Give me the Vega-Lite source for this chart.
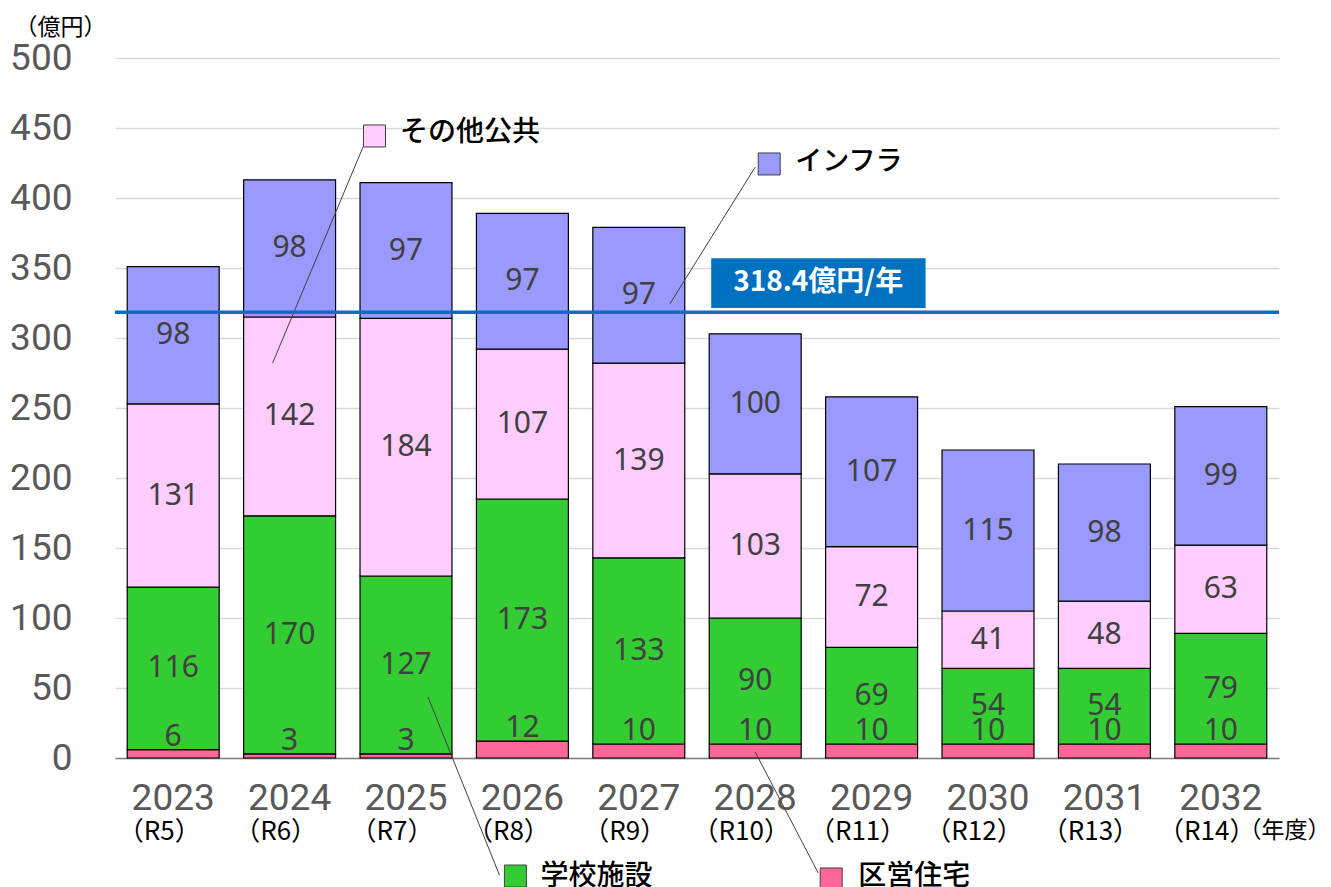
{
  "$schema": "https://vega.github.io/schema/vega-lite/v6.json",
  "width": 1164,
  "height": 700,
  "autosize": {"type": "none"},
  "padding": {"left": 115, "top": 58, "right": 52, "bottom": 129},
  "background": "white",
  "config": {"view": {"stroke": null}, "font": "Noto Sans CJK JP"},
  "datasets": {
    "main": [
      {"year": "2023", "cat": "区営住宅", "value": 6},
      {"year": "2023", "cat": "学校施設", "value": 116},
      {"year": "2023", "cat": "その他公共", "value": 131},
      {"year": "2023", "cat": "インフラ", "value": 98},
      {"year": "2024", "cat": "区営住宅", "value": 3},
      {"year": "2024", "cat": "学校施設", "value": 170},
      {"year": "2024", "cat": "その他公共", "value": 142},
      {"year": "2024", "cat": "インフラ", "value": 98},
      {"year": "2025", "cat": "区営住宅", "value": 3},
      {"year": "2025", "cat": "学校施設", "value": 127},
      {"year": "2025", "cat": "その他公共", "value": 184},
      {"year": "2025", "cat": "インフラ", "value": 97},
      {"year": "2026", "cat": "区営住宅", "value": 12},
      {"year": "2026", "cat": "学校施設", "value": 173},
      {"year": "2026", "cat": "その他公共", "value": 107},
      {"year": "2026", "cat": "インフラ", "value": 97},
      {"year": "2027", "cat": "区営住宅", "value": 10},
      {"year": "2027", "cat": "学校施設", "value": 133},
      {"year": "2027", "cat": "その他公共", "value": 139},
      {"year": "2027", "cat": "インフラ", "value": 97},
      {"year": "2028", "cat": "区営住宅", "value": 10},
      {"year": "2028", "cat": "学校施設", "value": 90},
      {"year": "2028", "cat": "その他公共", "value": 103},
      {"year": "2028", "cat": "インフラ", "value": 100},
      {"year": "2029", "cat": "区営住宅", "value": 10},
      {"year": "2029", "cat": "学校施設", "value": 69},
      {"year": "2029", "cat": "その他公共", "value": 72},
      {"year": "2029", "cat": "インフラ", "value": 107},
      {"year": "2030", "cat": "区営住宅", "value": 10},
      {"year": "2030", "cat": "学校施設", "value": 54},
      {"year": "2030", "cat": "その他公共", "value": 41},
      {"year": "2030", "cat": "インフラ", "value": 115},
      {"year": "2031", "cat": "区営住宅", "value": 10},
      {"year": "2031", "cat": "学校施設", "value": 54},
      {"year": "2031", "cat": "その他公共", "value": 48},
      {"year": "2031", "cat": "インフラ", "value": 98},
      {"year": "2032", "cat": "区営住宅", "value": 10},
      {"year": "2032", "cat": "学校施設", "value": 79},
      {"year": "2032", "cat": "その他公共", "value": 63},
      {"year": "2032", "cat": "インフラ", "value": 99}
    ],
    "years": [
      {"year": "2023", "wareki": "（R5）"},
      {"year": "2024", "wareki": "（R6）"},
      {"year": "2025", "wareki": "（R7）"},
      {"year": "2026", "wareki": "（R8）"},
      {"year": "2027", "wareki": "（R9）"},
      {"year": "2028", "wareki": "（R10）"},
      {"year": "2029", "wareki": "（R11）"},
      {"year": "2030", "wareki": "（R12）"},
      {"year": "2031", "wareki": "（R13）"},
      {"year": "2032", "wareki": "（R14）"}
    ]
  },
  "layer": [
    {
      "data": {"name": "main"},
      "transform": [
        {"calculate": "indexof(['区営住宅','学校施設','その他公共','インフラ'], datum.cat)", "as": "ord"},
        {"stack": "value", "groupby": ["year"], "sort": [{"field": "ord", "order": "ascending"}], "as": ["v0", "v1"]}
      ],
      "mark": {"type": "bar", "stroke": "#000000", "strokeWidth": 1.2},
      "encoding": {
        "x": {
          "field": "year", "type": "nominal",
          "scale": {"paddingInner": 0.21, "paddingOuter": 0.105},
          "axis": {
            "title": "（年度）", "labelAngle": 0, "labelFont": "Roboto", "labelFontSize": 37,
            "labelColor": "#595959", "labelPadding": 22, "ticks": false,
            "domainColor": "#808080", "domainWidth": 1.5,
            "titleX": 1123, "titleY": 72, "titleAlign": "left", "titleBaseline": "middle",
            "titleFontSize": 23, "titleFontWeight": "normal", "titleColor": "#000000",
            "titleFont": "Noto Sans CJK JP"
          }
        },
        "y": {
          "field": "v0", "type": "quantitative",
          "scale": {"domain": [0, 500]},
          "axis": {
            "title": "（億円）", "values": [0, 50, 100, 150, 200, 250, 300, 350, 400, 450, 500],
            "labelFont": "Roboto", "labelFontSize": 37, "labelColor": "#595959", "labelPadding": 43,
            "ticks": false, "domain": false, "gridColor": "#d9d9d9", "gridWidth": 1.3,
            "titleAngle": 0, "titleX": -101, "titleY": -31, "titleAlign": "left", "titleBaseline": "middle",
            "titleFontSize": 23, "titleFontWeight": "normal", "titleColor": "#000000",
            "titleFont": "Noto Sans CJK JP"
          }
        },
        "y2": {"field": "v1"},
        "color": {
          "field": "cat", "type": "nominal",
          "scale": {"domain": ["区営住宅", "学校施設", "その他公共", "インフラ"], "range": ["#FF6699", "#33CC33", "#FFCCFF", "#9999FF"]},
          "legend": null
        }
      }
    },
    {
      "data": {"name": "main"},
      "transform": [
        {"calculate": "indexof(['区営住宅','学校施設','その他公共','インフラ'], datum.cat)", "as": "ord"},
        {"stack": "value", "groupby": ["year"], "sort": [{"field": "ord", "order": "ascending"}], "as": ["v0", "v1"]},
        {"filter": "datum.cat !== '区営住宅'"},
        {"calculate": "(datum.v0 + datum.v1) / 2", "as": "mid"}
      ],
      "mark": {"type": "text", "font": "Noto Sans", "fontSize": 30, "color": "#404040", "baseline": "middle"},
      "encoding": {
        "x": {"field": "year", "type": "nominal"},
        "y": {"field": "mid", "type": "quantitative"},
        "text": {"field": "value", "type": "quantitative"}
      }
    },
    {
      "data": {"name": "main"},
      "transform": [
        {"calculate": "indexof(['区営住宅','学校施設','その他公共','インフラ'], datum.cat)", "as": "ord"},
        {"stack": "value", "groupby": ["year"], "sort": [{"field": "ord", "order": "ascending"}], "as": ["v0", "v1"]},
        {"filter": "datum.cat === '区営住宅'"}
      ],
      "mark": {"type": "text", "font": "Noto Sans", "fontSize": 30, "color": "#404040", "baseline": "bottom", "dy": 2},
      "encoding": {
        "x": {"field": "year", "type": "nominal"},
        "y": {"field": "v1", "type": "quantitative"},
        "text": {"field": "value", "type": "quantitative"}
      }
    },
    {
      "data": {"name": "years"},
      "mark": {"type": "text", "font": "Noto Sans CJK JP", "fontSize": 26, "color": "#000000", "baseline": "middle", "xOffset": -14},
      "encoding": {
        "x": {"field": "year", "type": "nominal"},
        "y": {"datum": -53, "type": "quantitative"},
        "text": {"field": "wareki", "type": "nominal"}
      }
    },
    {
      "data": {"values": [{}]},
      "mark": {"type": "rule", "color": "#404040", "strokeWidth": 1, "xOffset": -43, "x2Offset": -17},
      "encoding": {
        "x": {"datum": "2025", "type": "nominal", "bandPosition": 0.5},
        "x2": {"datum": "2024", "bandPosition": 0.5},
        "y": {"datum": 436.4, "type": "quantitative"},
        "y2": {"datum": 282.1}
      }
    },
    {
      "data": {"values": [{}]},
      "mark": {"type": "rule", "color": "#404040", "strokeWidth": 1, "xOffset": 0, "x2Offset": 31},
      "encoding": {
        "x": {"datum": "2028", "type": "nominal", "bandPosition": 0.5},
        "x2": {"datum": "2027", "bandPosition": 0.5},
        "y": {"datum": 422.1, "type": "quantitative"},
        "y2": {"datum": 324.3}
      }
    },
    {
      "data": {"values": [{}]},
      "mark": {"type": "rule", "color": "#404040", "strokeWidth": 1, "xOffset": 22, "x2Offset": -23},
      "encoding": {
        "x": {"datum": "2025", "type": "nominal", "bandPosition": 0.5},
        "x2": {"datum": "2026", "bandPosition": 0.5},
        "y": {"datum": 43.6, "type": "quantitative"},
        "y2": {"datum": -83.6}
      }
    },
    {
      "data": {"values": [{}]},
      "mark": {"type": "rule", "color": "#404040", "strokeWidth": 1, "xOffset": 0, "x2Offset": 63},
      "encoding": {
        "x": {"datum": "2028", "type": "nominal", "bandPosition": 0.5},
        "x2": {"datum": "2028", "bandPosition": 0.5},
        "y": {"datum": 4.3, "type": "quantitative"},
        "y2": {"datum": -82.1}
      }
    },
    {
      "data": {"values": [{}]},
      "mark": {"type": "rule", "color": "#0070C0", "strokeWidth": 3.5},
      "encoding": {
        "y": {"datum": 318.4, "type": "quantitative"}
      }
    },
    {
      "data": {"values": [{}]},
      "mark": {"type": "rect", "color": "#0070C0", "xOffset": 2, "x2Offset": 8},
      "encoding": {
        "x": {"datum": "2028", "type": "nominal", "bandPosition": 0},
        "x2": {"datum": "2029", "bandPosition": 1},
        "y": {"datum": 321.5, "type": "quantitative"},
        "y2": {"datum": 357}
      }
    },
    {
      "data": {"values": [{}]},
      "mark": {"type": "text", "text": "318.4億円/年", "font": "Noto Sans CJK JP", "fontSize": 28, "fontWeight": "bold", "color": "#FFFFFF", "baseline": "middle", "align": "center", "xOffset": 63},
      "encoding": {
        "x": {"datum": "2028", "type": "nominal", "bandPosition": 0.5},
        "y": {"datum": 339, "type": "quantitative"}
      }
    },
    {
      "data": {"values": [{}]},
      "mark": {"type": "point", "shape": "square", "size": 484, "filled": true, "fill": "#FFCCFF", "stroke": "#404040", "strokeWidth": 1, "opacity": 1, "xOffset": -31.5},
      "encoding": {
        "x": {"datum": "2025", "type": "nominal"},
        "y": {"datum": 444.3, "type": "quantitative"}
      }
    },
    {
      "data": {"values": [{}]},
      "mark": {"type": "point", "shape": "square", "size": 484, "filled": true, "fill": "#9999FF", "stroke": "#404040", "strokeWidth": 1, "opacity": 1, "xOffset": 14},
      "encoding": {
        "x": {"datum": "2028", "type": "nominal"},
        "y": {"datum": 424.3, "type": "quantitative"}
      }
    },
    {
      "data": {"values": [{}]},
      "mark": {"type": "point", "shape": "square", "size": 484, "filled": true, "fill": "#33CC33", "stroke": "#404040", "strokeWidth": 1, "opacity": 1, "xOffset": -7},
      "encoding": {
        "x": {"datum": "2026", "type": "nominal"},
        "y": {"datum": -84.3, "type": "quantitative"}
      }
    },
    {
      "data": {"values": [{}]},
      "mark": {"type": "point", "shape": "square", "size": 484, "filled": true, "fill": "#FF6699", "stroke": "#404040", "strokeWidth": 1, "opacity": 1, "xOffset": 76},
      "encoding": {
        "x": {"datum": "2028", "type": "nominal"},
        "y": {"datum": -86.4, "type": "quantitative"}
      }
    },
    {
      "data": {"values": [{}]},
      "mark": {"type": "text", "text": "その他公共", "font": "Noto Sans CJK JP", "fontSize": 28, "fontWeight": 500, "color": "#000000", "align": "left", "baseline": "middle", "xOffset": -6},
      "encoding": {
        "x": {"datum": "2025", "type": "nominal"},
        "y": {"datum": 446.4, "type": "quantitative"}
      }
    },
    {
      "data": {"values": [{}]},
      "mark": {"type": "text", "text": "インフラ", "font": "Noto Sans CJK JP", "fontSize": 27, "fontWeight": 500, "color": "#000000", "align": "left", "baseline": "middle", "xOffset": 40},
      "encoding": {
        "x": {"datum": "2028", "type": "nominal"},
        "y": {"datum": 425.7, "type": "quantitative"}
      }
    },
    {
      "data": {"values": [{}]},
      "mark": {"type": "text", "text": "学校施設", "font": "Noto Sans CJK JP", "fontSize": 28, "fontWeight": 500, "color": "#000000", "align": "left", "baseline": "middle", "xOffset": 18},
      "encoding": {
        "x": {"datum": "2026", "type": "nominal"},
        "y": {"datum": -85, "type": "quantitative"}
      }
    },
    {
      "data": {"values": [{}]},
      "mark": {"type": "text", "text": "区営住宅", "font": "Noto Sans CJK JP", "fontSize": 28, "fontWeight": 500, "color": "#000000", "align": "left", "baseline": "middle", "xOffset": 103},
      "encoding": {
        "x": {"datum": "2028", "type": "nominal"},
        "y": {"datum": -85, "type": "quantitative"}
      }
    }
  ]
}
